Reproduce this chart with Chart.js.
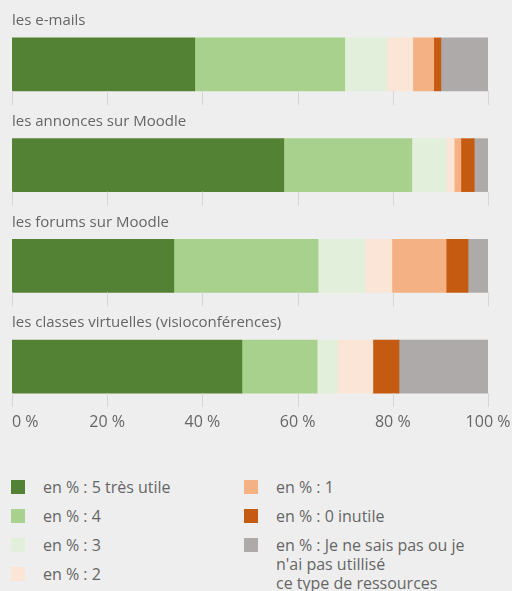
<!DOCTYPE html>
<html>
<head>
<meta charset="utf-8">
<script src="https://cdn.jsdelivr.net/npm/chart.js@4"></script>
<style>
  html, body { margin: 0; padding: 0; background: #eeeeee; }
  #wrap { position: relative; width: 512px; height: 591px; overflow: hidden; font-family: 'Open Sans', sans-serif; color: #666; }
  #chart { position: absolute; left: 0; top: 0; }
  .leg { position: absolute; display: flex; align-items: flex-start; font-size: 16px; line-height: 19px; white-space: nowrap; }
  .leg .sw { width: 14px; height: 14px; margin-top: 2.5px; margin-right: 18px; flex: none; }
</style>
</head>
<body>
<div id="wrap">
  <canvas id="chart" width="512" height="440"></canvas>
  <div id="legend"></div>
</div>
<script>
const categories = [
  'les e-mails',
  'les annonces sur Moodle',
  'les forums sur Moodle',
  'les classes virtuelles (visioconférences)',
];

const tres5   = [38.4, 57.1, 34.0, 48.3];
const note4   = [31.5, 26.9, 30.3, 15.8];
const note3   = [8.9, 7.2, 9.9, 4.3];
const note2   = [5.4, 1.7, 5.6, 7.4];
const note1   = [4.4, 1.4, 11.4, 0];
const inutile = [1.5, 2.8, 4.6, 5.5];
const nsp     = [9.9, 2.9, 4.2, 18.7];

const seriesLabels = [
  'en % : 5 très utile',
  'en % : 4',
  'en % : 3',
  'en % : 2',
  'en % : 1',
  'en % : 0 inutile',
  ['en % : Je ne sais pas ou je', "n'ai pas utillisé", 'ce type de ressources'],
];
const seriesColors = ['#548235', '#a9d18e', '#e2efda', '#fbe5d6', '#f4b183', '#c55a11', '#aeaaaa'];
const seriesData = [tres5, note4, note3, note2, note1, inutile, nsp];

const tickValues = [0, 20, 40, 60, 80, 100];

const TEXT = '#666';
const FONT = "'Open Sans', sans-serif";

// labels above each bar, short tick marks below each bar, and x tick labels
const barDecor = {
  id: 'barDecor',
  afterDraw(chart) {
    const { ctx } = chart;
    const x = chart.scales.x;
    const meta = chart.getDatasetMeta(0);
    ctx.save();
    meta.data.forEach((bar, i) => {
      const top = bar.y - bar.height / 2;
      const bottom = bar.y + bar.height / 2;
      ctx.fillStyle = TEXT;
      ctx.font = `15px ${FONT}`;
      ctx.textAlign = 'left';
      ctx.textBaseline = 'middle';
      ctx.fillText(chart.data.labels[i], x.left, top - 17);

      ctx.strokeStyle = '#d6d6d6';
      ctx.lineWidth = 1;
      tickValues.forEach(v => {
        const px = Math.round(x.getPixelForValue(v)) + 0.5;
        ctx.beginPath();
        ctx.moveTo(px, bottom);
        ctx.lineTo(px, bottom + 14);
        ctx.stroke();
      });

      if (i === meta.data.length - 1) {
        ctx.font = `16px ${FONT}`;
        tickValues.forEach((v, k) => {
          ctx.textAlign = k === 0 ? 'left' : 'center';
          ctx.fillText(`${v} %`, x.getPixelForValue(v), bottom + 29);
        });
      }
    });
    ctx.restore();
  },
};

const chart = new Chart(document.getElementById('chart'), {
  type: 'bar',
  data: {
    labels: categories,
    datasets: seriesData.map((d, i) => ({
      label: seriesLabels[i],
      data: d,
      backgroundColor: seriesColors[i],
      borderWidth: 0,
      barThickness: 53,
    })),
  },
  options: {
    indexAxis: 'y',
    responsive: false,
    animation: false,
    layout: {
      autoPadding: false,
      padding: { top: 14, left: 12, right: 24, bottom: 23 },
    },
    plugins: {
      legend: { display: false },
      tooltip: { enabled: false },
    },
    scales: {
      x: {
        display: false,
        stacked: true,
        min: 0,
        max: 100,
        ticks: { stepSize: 20 },
      },
      y: {
        display: false,
        stacked: true,
      },
    },
  },
  plugins: [barDecor],
});

// html legend, two columns, built from the datasets
const legendEl = document.getElementById('legend');
chart.data.datasets.forEach((ds, i) => {
  const col = i < 4 ? 0 : 1;
  const row = i < 4 ? i : i - 4;
  const item = document.createElement('div');
  item.className = 'leg';
  item.style.left = (col === 0 ? 11 : 244) + 'px';
  item.style.top = (477.5 + row * 29) + 'px';
  const sw = document.createElement('span');
  sw.className = 'sw';
  sw.style.background = ds.backgroundColor;
  const txt = document.createElement('span');
  txt.innerHTML = [].concat(ds.label).join('<br>');
  item.appendChild(sw);
  item.appendChild(txt);
  legendEl.appendChild(item);
});
</script>
</body>
</html>
